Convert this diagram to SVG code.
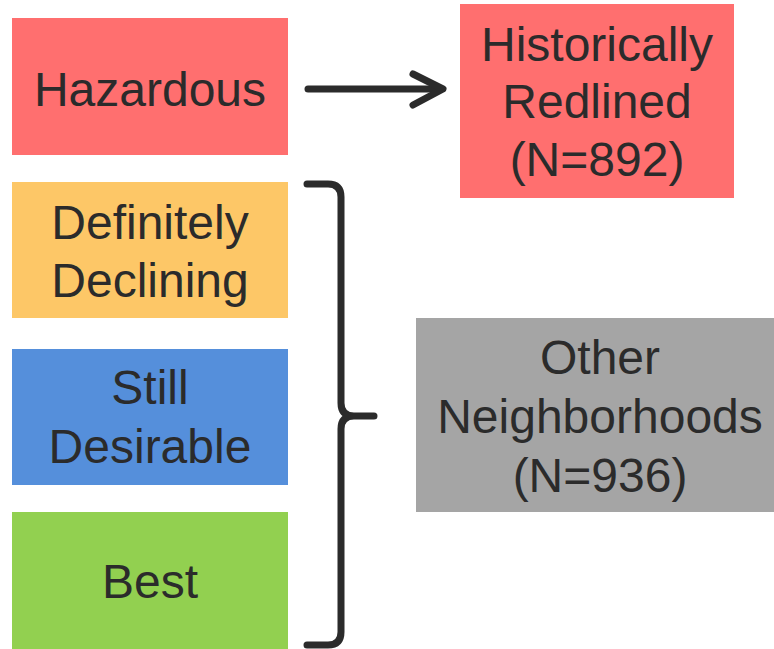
<svg xmlns="http://www.w3.org/2000/svg" width="774" height="649" viewBox="0 0 774 649">
<style>
  text { font-family: "Liberation Sans", Arial, sans-serif; font-size: 48px; fill: #2b2b2b; text-anchor: middle; }
  .conn { fill: none; stroke: #2b2b2b; stroke-width: 7; stroke-linecap: round; stroke-linejoin: round; }
</style>
<rect width="774" height="649" fill="#ffffff"/>
<g id="hazardous">
  <rect x="12" y="18" width="276" height="137" fill="#ff6f6f"/>
  <text x="150" y="106">Hazardous</text>
</g>
<g id="definitely-declining">
  <rect x="12" y="182" width="276" height="136" fill="#fdc767"/>
  <text x="150" y="239">Definitely</text>
  <text x="150" y="297">Declining</text>
</g>
<g id="still-desirable">
  <rect x="12" y="349" width="276" height="136" fill="#558fdb"/>
  <text x="150" y="404">Still</text>
  <text x="150" y="463">Desirable</text>
</g>
<g id="best">
  <rect x="12" y="512" width="276" height="137" fill="#92d050"/>
  <text x="150" y="598">Best</text>
</g>
<g id="historically-redlined">
  <rect x="460" y="4" width="274" height="194" fill="#ff6f6f"/>
  <text x="597" y="61">Historically</text>
  <text x="597" y="118">Redlined</text>
  <text x="597" y="176">(N=892)</text>
</g>
<g id="other-neighborhoods">
  <rect x="416" y="318" width="358" height="194" fill="#a5a5a5"/>
  <text x="600" y="374">Other</text>
  <text x="600" y="433">Neighborhoods</text>
  <text x="600" y="492">(N=936)</text>
</g>
<g id="connectors">
  <path class="conn" d="M308,89 H441"/>
  <path class="conn" d="M413,74 L443,89 L413,105"/>
  <path class="conn" stroke-linecap="butt" d="M307,184 H328 Q341,184 341,197 V403 Q341,416 354,416 H374 M354,416 Q341,416 341,429 V632 Q341,645 328,645 H307"/>
</g>
</svg>
